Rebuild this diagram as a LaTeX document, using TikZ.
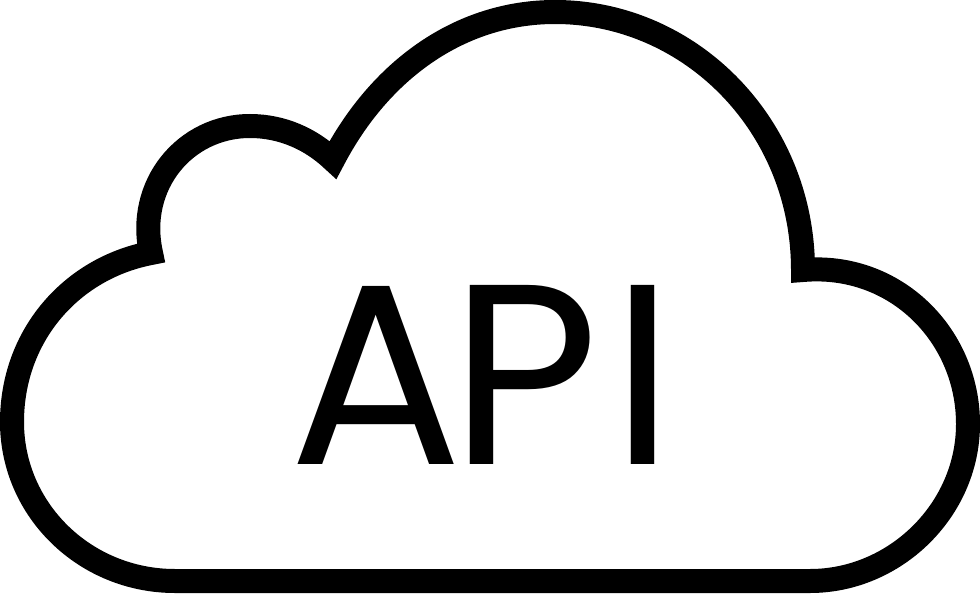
\documentclass[tikz,border=0pt]{standalone}
\usepackage{fontspec}
\setmainfont{Poppins}
\begin{document}
\begin{tikzpicture}[x=1pt, y=-1pt,
  outline/.style={draw=black, line width=24pt, miter limit=10, line join=miter},
  apilabel/.style={inner sep=0pt, font=\fontsize{257}{257}\selectfont, text=black, anchor=base}]
\useasboundingbox (0,0) rectangle (980,594);
% cloud
\draw[outline] (175,581) .. controls (85,581) and (12,510) .. (12,422)
  .. controls (12,335) and (72,268) .. (151,253)
  .. controls (136,185) and (185,126) .. (250,126)
  .. controls (282,126) and (311,139) .. (333,160)
  .. controls (380,70) and (460,12) .. (555,12)
  .. controls (690,12) and (803,125) .. (803,270)
  .. controls (895,262) and (968,335) .. (968,424)
  .. controls (968,510) and (895,581) .. (810,581) -- cycle;
\node[apilabel] (letterA) at (376,464) {A};
\node[apilabel] (letterP) at (525,464) {P};
\node[apilabel] (letterI) at (643,464) {I};
\end{tikzpicture}
\end{document}
